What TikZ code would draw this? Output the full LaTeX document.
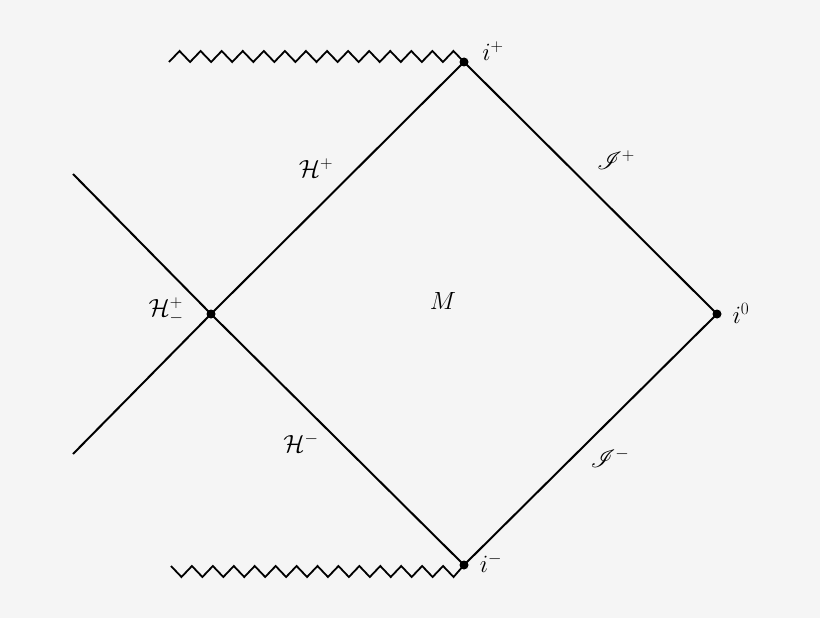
\documentclass[tikz,border=0pt]{standalone}
\usepackage{amsmath}
\usepackage{mathrsfs}
\definecolor{bgc}{RGB}{245,245,245}
\begin{document}
\begin{tikzpicture}[x=1pt,y=-1pt,
  line width=2pt,
  dot/.style={circle,fill=black,inner sep=0pt,minimum size=9pt},
  lbl/.style={inner sep=0pt,font=\fontsize{23}{27}\selectfont}]
\fill[bgc] (0,0) rectangle (820,618);
\useasboundingbox (0,0) rectangle (820,618);
% points
\node[dot] (ip) at (464,62) {};
\node[dot] (im) at (464,565) {};
\node[dot] (i0) at (717,314) {};
\node[dot] (h) at (211,314) {};
\coordinate (ul) at (73,174);
\coordinate (ll) at (73,454);
\coordinate (zt) at (169,62);
\coordinate (zb) at (171,566);
% lines
\draw (h.center) -- (ip.center);
\draw (ip.center) -- (i0.center);
\draw (i0.center) -- (im.center);
\draw (im.center) -- (h.center);
\draw (h.center) -- (ul);
\draw (h.center) -- (ll);
% singularities
\draw[line join=miter,line width=1.8pt] (zt)
  \foreach \k [evaluate=\k as \xa using 169+21.0714*\k+10.536,
               evaluate=\k as \xb using 169+21.0714*(\k+1)] in {0,...,12}
  { -- (\xa,51) -- (\xb,62) } -- (453.46,51) -- (ip.center);
\draw[line join=miter,line width=1.8pt] (zb)
  \foreach \k [evaluate=\k as \xa using 171+20.9286*\k+10.464,
               evaluate=\k as \xb using 171+20.9286*(\k+1)] in {0,...,12}
  { -- (\xa,577) -- (\xb,566) } -- (453.54,577) -- (im.center);
% labels
\node[lbl] (lip) at (493,51) {$i^+$};
\node[lbl] (lim) at (491,563) {$i^-$};
\node[lbl] (li0) at (741,313) {$i^0$};
\node[lbl] (lh) at (166,311) {$\mathcal{H}^+_-$};
\node[lbl] (lhp) at (316,168) {$\mathcal{H}^+$};
\node[lbl] (lhm) at (301,443) {$\mathcal{H}^-$};
\node[lbl] (lsp) at (616,160) {$\mathscr{I}^+$};
\node[lbl] (lsm) at (610,458) {$\mathscr{I}^-$};
\node[lbl] (lm) at (443,301) {$M$};
\end{tikzpicture}
\end{document}
